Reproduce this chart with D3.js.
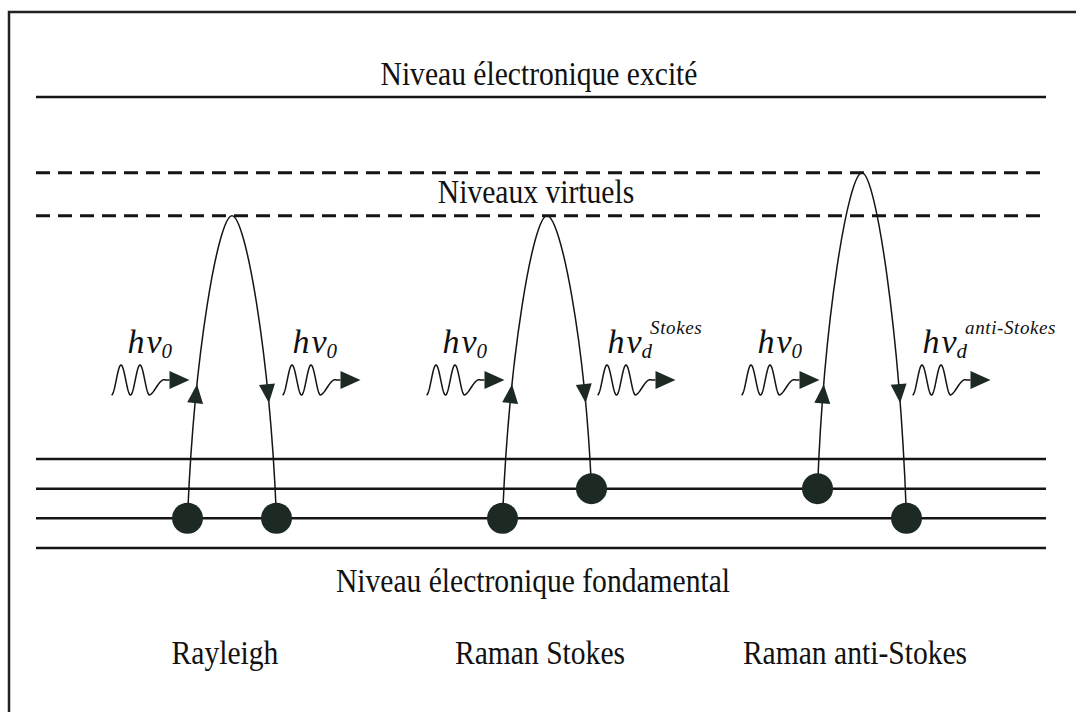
<!DOCTYPE html>
<html>
<head>
<meta charset="utf-8">
<script src="https://cdn.jsdelivr.net/npm/d3@7"></script>
<style>
  html, body { margin: 0; padding: 0; background: #fff; }
  svg text { font-family: "Liberation Serif", "Times New Roman", serif; fill: #111; }
</style>
</head>
<body>
<svg id="chart" width="1076" height="712"></svg>
<script>
// niveaux d'énergie (unité = écart entre niveaux vibrationnels)
const groundLevels = [0, 1, 2, 3];
const virtualLevels = [11.2, 12.65];
const excitedLevel = 15.2;

// les trois processus de diffusion
const processes = ["Rayleigh", "Raman Stokes", "Raman anti-Stokes"];
const startLevel = [1, 1, 2];          // niveau vibrationnel de départ
const virtualReached = [11.2, 11.2, 12.65];
const endLevel = [1, 2, 1];            // niveau vibrationnel d'arrivée
const outSubscript = ["0", "d", "d"];
const outSuperscript = ["", "Stokes", "anti-Stokes"];

const levelTitles = ["Niveau électronique excité", "Niveaux virtuels", "Niveau électronique fondamental"];

const svg = d3.select("#chart");
const ink = "#151515";
const dot = "#1d2a23";

const y = d3.scaleLinear().domain([0, excitedLevel]).range([548, 97]);
const x = d3.scalePoint().domain(processes).range([74.5, 1019.5]).padding(0.5);
const spread = 44.5;   // demi-écart entre les deux pattes de chaque transition
const xLeft = 36, xRight = 1046;

// cadre (haut + gauche seulement visibles)
svg.append("path")
  .attr("d", "M9,712 V12 H1076")
  .attr("fill", "none")
  .attr("stroke", "#222")
  .attr("stroke-width", 2.5);

// niveaux
svg.append("line")
  .attr("x1", xLeft).attr("x2", xRight)
  .attr("y1", y(excitedLevel)).attr("y2", y(excitedLevel))
  .attr("stroke", ink).attr("stroke-width", 2.5);

svg.selectAll(".virtual")
  .data(virtualLevels)
  .join("line")
  .attr("class", "virtual")
  .attr("x1", xLeft).attr("x2", xRight - 2)
  .attr("y1", d => y(d)).attr("y2", d => y(d))
  .attr("stroke", ink).attr("stroke-width", 3)
  .attr("stroke-dasharray", "14,8");

svg.selectAll(".ground")
  .data(groundLevels)
  .join("line")
  .attr("class", "ground")
  .attr("x1", xLeft).attr("x2", xRight)
  .attr("y1", d => y(d)).attr("y2", d => y(d))
  .attr("stroke", ink).attr("stroke-width", 2.5);

// texte en Times "étroit" comme l'original
function narrowText(tx, ty, str) {
  return svg.append("text")
    .attr("transform", `translate(${tx},${ty}) scale(0.87,1)`)
    .attr("text-anchor", "middle")
    .attr("font-size", 34)
    .text(str);
}

const titleX = 536;
narrowText(titleX + 3, y(excitedLevel) - 12, levelTitles[0]);
narrowText(titleX, y(virtualLevels[0]) - 13, levelTitles[1]);
narrowText(titleX - 3, y(groundLevels[0]) + 44, levelTitles[2]);

// noms des processus
processes.forEach(p => narrowText(x(p) - 7, 664, p));

// -------------------------------
// pattes des transitions (montée + descente)
// -------------------------------
function legPath(x0, y0, cx, ya) {
  const dx = cx - x0, dy = y0 - ya;
  return `M${x0},${y0} C${x0 + 0.15 * dx},${y0 - 0.55 * dy} ${cx - 0.3 * dx},${ya} ${cx},${ya}`;
}
function legPathDown(cx, ya, x1, y1) {
  const dx = x1 - cx, dy = y1 - ya;
  return `M${cx},${ya} C${cx + 0.3 * dx},${ya} ${x1 - 0.15 * dx},${y1 - 0.55 * dy} ${x1},${y1}`;
}

const arrowY = y(5.2);

// trouve le point de la courbe le plus proche de arrowY
function pointAtY(node, targetY) {
  const total = node.getTotalLength();
  let best = 0, bestDist = Infinity;
  for (let s = 0; s <= total; s += 0.5) {
    const p = node.getPointAtLength(s);
    const dist = Math.abs(p.y - targetY);
    if (dist < bestDist) { bestDist = dist; best = s; }
  }
  const p = node.getPointAtLength(best);
  const a = node.getPointAtLength(Math.max(0, best - 1));
  const b = node.getPointAtLength(Math.min(total, best + 1));
  return { x: p.x, y: p.y, angle: Math.atan2(b.y - a.y, b.x - a.x) * 180 / Math.PI };
}

function triangle(g, px, py, angle, len, wid) {
  g.append("path")
    .attr("d", `M${len / 2},0 L${-len / 2},${-wid / 2} L${-len / 2},${wid / 2} Z`)
    .attr("transform", `translate(${px},${py}) rotate(${angle})`)
    .attr("fill", dot);
}

// onde (photon) : deux arches puis crochet vers la pointe
const P = 19, A = 15, tail = 20, headLen = 20;
function wave(g, x0, yc) {
  const pts = [];
  for (let t = 0; t <= 2 * P; t += 0.5) pts.push([x0 + t, yc + A * Math.cos(2 * Math.PI * t / P)]);
  for (let t = 0.5; t <= tail; t += 0.5) {
    const s = Math.min(1, t / (tail * 0.8));
    pts.push([x0 + 2 * P + t, yc + A * (1 + Math.cos(Math.PI * s)) / 2 - 2 * Math.sin(Math.PI * s)]);
  }
  g.append("path")
    .attr("d", d3.line()(pts))
    .attr("fill", "none")
    .attr("stroke", ink)
    .attr("stroke-width", 1.5);
  const baseX = x0 + 2 * P + tail;
  triangle(g, baseX + headLen / 2, yc, 0, headLen, 18);
}

function photonLabel(g, lx, sub, sup) {
  const t = g.append("text")
    .attr("x", lx).attr("y", 353)
    .attr("font-size", 34)
    .attr("font-style", "italic");
  t.append("tspan").text("h");
  t.append("tspan").attr("dx", 2).text("ν");
  t.append("tspan").attr("font-size", 21).attr("dy", 5).text(sub);
  if (sup) {
    t.append("tspan").attr("font-size", 19).attr("dx", -2).attr("dy", -24)
      .attr("letter-spacing", 0.6).text(sup);
  }
}

const waveLen = 2 * P + tail + headLen;
const waveY = 380;

processes.forEach((p, i) => {
  const g = svg.append("g").attr("class", "transition");
  const cx = x(p);
  const xa = cx - spread, xb = cx + spread;
  const ya = y(virtualReached[i]);

  const up = g.append("path")
    .attr("d", legPath(xa, y(startLevel[i]), cx, ya))
    .attr("fill", "none").attr("stroke", ink).attr("stroke-width", 1.5);
  const down = g.append("path")
    .attr("d", legPathDown(cx, ya, xb, y(endLevel[i])))
    .attr("fill", "none").attr("stroke", ink).attr("stroke-width", 1.5);

  const pu = pointAtY(up.node(), arrowY);
  triangle(g, pu.x, pu.y, pu.angle, 19, 16);
  const pd = pointAtY(down.node(), arrowY);
  triangle(g, pd.x, pd.y, pd.angle, 19, 16);

  // photon incident
  const inStart = xa + 2 - waveLen;
  wave(g, inStart, waveY);
  photonLabel(g, inStart + 16, "0", "");

  // photon diffusé
  const outStart = xb + 6;
  wave(g, outStart, waveY);
  photonLabel(g, outStart + 10, outSubscript[i], outSuperscript[i]);

  // molécule avant / après
  g.append("circle").attr("cx", xa).attr("cy", y(startLevel[i])).attr("r", 15.5).attr("fill", dot);
  g.append("circle").attr("cx", xb).attr("cy", y(endLevel[i])).attr("r", 15.5).attr("fill", dot);
});
</script>
</body>
</html>
